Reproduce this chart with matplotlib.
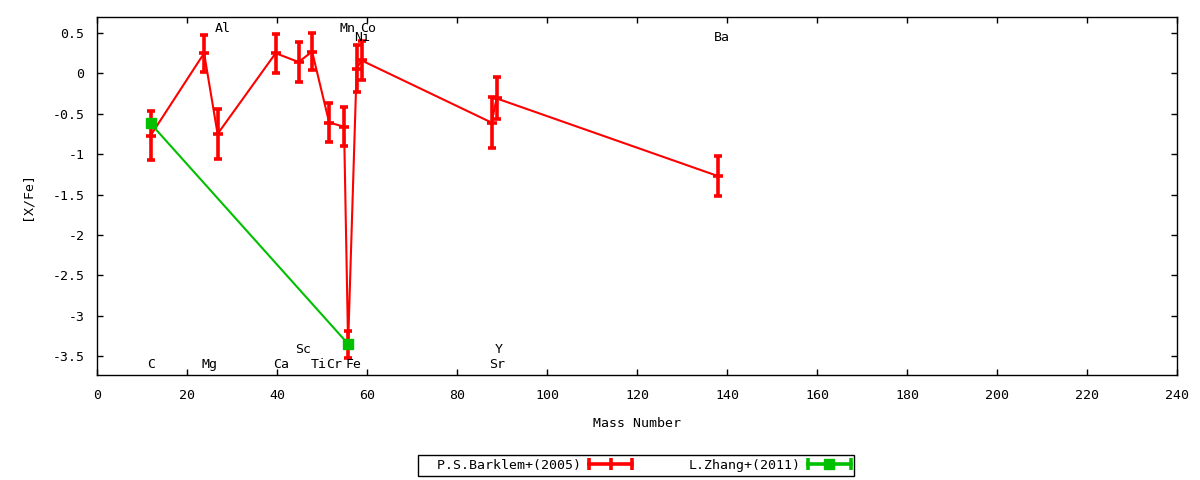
#!/usr/bin/env python3

# [X/Fe] versus mass number, two abundance sets

import numpy as np
import matplotlib
matplotlib.use('Agg')
import matplotlib.pyplot as plt
from matplotlib.lines import Line2D
from matplotlib.legend_handler import HandlerLine2D

# P.S.Barklem+(2005)
barklem_mass = [11.9, 23.8, 26.8, 39.7, 44.8, 47.8, 51.6, 54.9, 55.8, 57.7, 58.8, 87.7, 88.8, 137.9]
barklem_xfe = [-0.77, 0.25, -0.75, 0.25, 0.14, 0.27, -0.61, -0.66, -3.36, 0.06, 0.16, -0.61, -0.31, -1.27]
barklem_err = [0.30, 0.23, 0.31, 0.24, 0.25, 0.23, 0.24, 0.24, 0.17, 0.29, 0.24, 0.32, 0.26, 0.245]

# L.Zhang+(2011)
zhang_mass = [11.9, 55.8]
zhang_xfe = [-0.62, -3.35]

# element labels
elem_names = ['C', 'Mg', 'Al', 'Ca', 'Sc', 'Ti', 'Cr', 'Fe', 'Mn', 'Co', 'Ni', 'Sr', 'Y', 'Ba']
elem_x = [12.1, 25.1, 27.9, 41.0, 45.8, 49.3, 52.8, 57.0, 55.6, 60.2, 59.0, 88.9, 89.3, 138.9]
elem_y = [-3.60, -3.60, 0.56, -3.60, -3.42, -3.60, -3.60, -3.60, 0.56, 0.56, 0.44, -3.60, -3.42, 0.44]

RED = '#ff0000'
GREEN = '#00c000'
FONT = 'DejaVu Sans Mono'
FS = 9.5

plt.rcParams['font.family'] = [FONT]
plt.rcParams['font.size'] = FS

fig = plt.figure(figsize=(12, 4.8), dpi=100, facecolor='white')
ax = fig.add_axes([97/1200, 1-375/480, 1080/1200, 358/480])

ax.errorbar(barklem_mass, barklem_xfe, yerr=barklem_err, color=RED, lw=1.5,
            elinewidth=2.6, capsize=3.2, capthick=2.6,
            marker='_', markersize=7, mew=2.6, zorder=3)
ax.plot(zhang_mass, zhang_xfe, color=GREEN, lw=1.5, marker='s', markersize=7, zorder=4)

for name, x, y in zip(elem_names, elem_x, elem_y):
    ax.text(x, y, name, ha='center', va='center', fontsize=FS)

ax.set_xlim(0, 240)
ax.set_ylim(-3.735, 0.698)
ax.set_xticks(np.arange(0, 241, 20))
ax.set_yticks(np.arange(-3.5, 0.51, 0.5))
ax.set_yticklabels(['%g' % v for v in np.arange(-3.5, 0.51, 0.5)])
ax.tick_params(direction='in', length=4.5, width=1, top=True, right=True)
ax.tick_params(axis='x', pad=10)
ax.tick_params(axis='y', pad=9)
for sp in ax.spines.values():
    sp.set_linewidth(1)

ax.set_xlabel('Mass Number', labelpad=11)
ax.set_ylabel('[X/Fe]', labelpad=14)

# legend: gnuplot style samples (caps at ends, point in the middle)
r_ends = Line2D([], [], color=RED, lw=2.6, marker='|', markersize=8, mew=2.6)
r_mid = Line2D([], [], color=RED, lw=0, marker='|', markersize=8, mew=2.6)
g_ends = Line2D([], [], color=GREEN, lw=2.6, marker='|', markersize=8, mew=2.6)
g_mid = Line2D([], [], color=GREEN, lw=0, marker='s', markersize=7)
hmap = {r_ends: HandlerLine2D(numpoints=2, marker_pad=0),
        g_ends: HandlerLine2D(numpoints=2, marker_pad=0),
        r_mid: HandlerLine2D(numpoints=1),
        g_mid: HandlerLine2D(numpoints=1)}
leg = fig.legend([(r_ends, r_mid), (g_ends, g_mid)],
                 ['  P.S.Barklem+(2005)', 'L.Zhang+(2011)'],
                 handler_map=hmap, loc='center', bbox_to_anchor=(0.530, 0.031),
                 ncol=2, markerfirst=False, handlelength=3.2, handletextpad=0.6,
                 columnspacing=4.3, borderpad=0.3, borderaxespad=0,
                 fancybox=False, framealpha=1, edgecolor='black', fontsize=FS)
leg.get_frame().set_linewidth(1)

plt.savefig('out.png', dpi=100, facecolor='white')
